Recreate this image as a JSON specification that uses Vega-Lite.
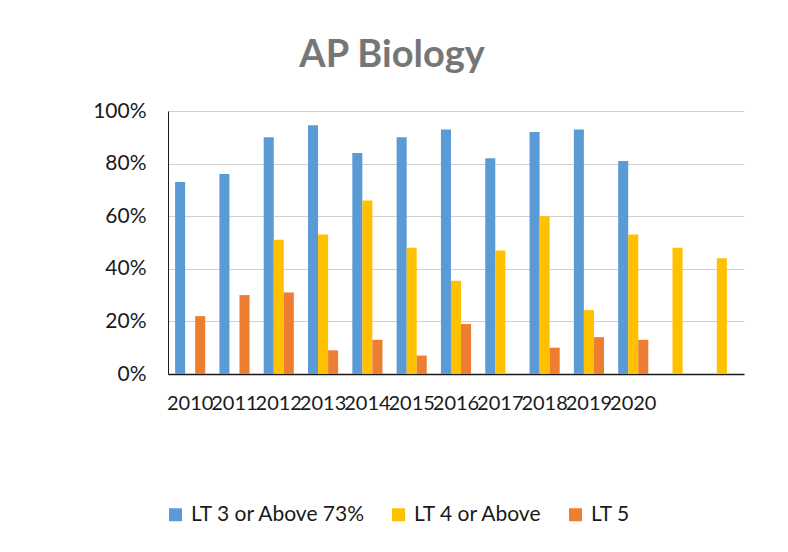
{
  "$schema": "https://vega.github.io/schema/vega-lite/v6.json",
  "autosize": {"type": "none"},
  "width": 576,
  "height": 263,
  "padding": {"left": 168, "top": 111, "right": 44, "bottom": 178},
  "background": "white",
  "title": {
    "text": "AP Biology",
    "font": "Lato",
    "fontSize": 38,
    "fontWeight": "bold",
    "color": "#767676",
    "anchor": "middle",
    "dx": -64,
    "offset": 25
  },
  "config": {
    "view": {"stroke": null},
    "font": "Lato"
  },
  "data": {
    "values": [
      {"year": "2010", "series": "LT 3 or Above 73%", "value": 73},
      {"year": "2010", "series": "LT 5", "value": 22},
      {"year": "2011", "series": "LT 3 or Above 73%", "value": 76},
      {"year": "2011", "series": "LT 5", "value": 30},
      {"year": "2012", "series": "LT 3 or Above 73%", "value": 90},
      {"year": "2012", "series": "LT 4 or Above", "value": 51},
      {"year": "2012", "series": "LT 5", "value": 31},
      {"year": "2013", "series": "LT 3 or Above 73%", "value": 94.6},
      {"year": "2013", "series": "LT 4 or Above", "value": 53},
      {"year": "2013", "series": "LT 5", "value": 9},
      {"year": "2014", "series": "LT 3 or Above 73%", "value": 84},
      {"year": "2014", "series": "LT 4 or Above", "value": 66},
      {"year": "2014", "series": "LT 5", "value": 13},
      {"year": "2015", "series": "LT 3 or Above 73%", "value": 90},
      {"year": "2015", "series": "LT 4 or Above", "value": 48},
      {"year": "2015", "series": "LT 5", "value": 7},
      {"year": "2016", "series": "LT 3 or Above 73%", "value": 93},
      {"year": "2016", "series": "LT 4 or Above", "value": 35.5},
      {"year": "2016", "series": "LT 5", "value": 19},
      {"year": "2017", "series": "LT 3 or Above 73%", "value": 82},
      {"year": "2017", "series": "LT 4 or Above", "value": 47},
      {"year": "2018", "series": "LT 3 or Above 73%", "value": 92},
      {"year": "2018", "series": "LT 4 or Above", "value": 60},
      {"year": "2018", "series": "LT 5", "value": 10},
      {"year": "2019", "series": "LT 3 or Above 73%", "value": 93},
      {"year": "2019", "series": "LT 4 or Above", "value": 24.3},
      {"year": "2019", "series": "LT 5", "value": 14},
      {"year": "2020", "series": "LT 3 or Above 73%", "value": 81},
      {"year": "2020", "series": "LT 4 or Above", "value": 53},
      {"year": "2020", "series": "LT 5", "value": 13},
      {"year": "blank1", "series": "LT 4 or Above", "value": 48},
      {"year": "blank2", "series": "LT 4 or Above", "value": 44}
    ]
  },
  "mark": {"type": "bar"},
  "encoding": {
    "x": {
      "field": "year",
      "type": "nominal",
      "sort": ["2010","2011","2012","2013","2014","2015","2016","2017","2018","2019","2020","blank1","blank2"],
      "scale": {"paddingInner": 0.32, "paddingOuter": 0.16},
      "axis": {
        "title": null,
        "labelAngle": 0,
        "labelOverlap": false,
        "labelBound": false,
        "labelFlush": false,
        "labelExpr": "indexof(datum.value, 'blank') == 0 ? '' : datum.value",
        "labelFont": "Lato",
        "labelFontSize": 20,
        "labelColor": "#1a1a1a",
        "labelPadding": 19,
        "ticks": false,
        "domainColor": "#1a1a1a",
        "domainWidth": 1.5,
        "grid": false
      }
    },
    "xOffset": {
      "field": "series",
      "type": "nominal",
      "sort": ["LT 3 or Above 73%", "LT 4 or Above", "LT 5"],
      "scale": {"domain": ["LT 3 or Above 73%", "LT 4 or Above", "LT 5"], "paddingInner": 0, "paddingOuter": 0}
    },
    "y": {
      "field": "value",
      "type": "quantitative",
      "scale": {"domain": [0, 100], "nice": false},
      "axis": {
        "title": null,
        "values": [0, 20, 40, 60, 80, 100],
        "labelExpr": "datum.value + '%'",
        "labelFont": "Lato",
        "labelFontSize": 21,
        "labelColor": "#1a1a1a",
        "labelPadding": 22,
        "ticks": false,
        "domainColor": "#1a1a1a",
        "domainWidth": 1,
        "gridColor": "#d0d0d0",
        "gridWidth": 1.2
      }
    },
    "color": {
      "field": "series",
      "type": "nominal",
      "scale": {
        "domain": ["LT 3 or Above 73%", "LT 4 or Above", "LT 5"],
        "range": ["#5B9BD5", "#FFC000", "#ED7D31"]
      },
      "legend": {
        "title": null,
        "orient": "none",
        "direction": "horizontal",
        "legendX": -3,
        "legendY": 393,
        "symbolType": "square",
        "symbolSize": 169,
        "symbolStrokeWidth": 0,
        "labelFont": "Lato",
        "labelFontSize": 21,
        "labelLimit": 400,
        "labelColor": "#1a1a1a",
        "labelOffset": 5,
        "columnPadding": 22
      }
    }
  }
}
